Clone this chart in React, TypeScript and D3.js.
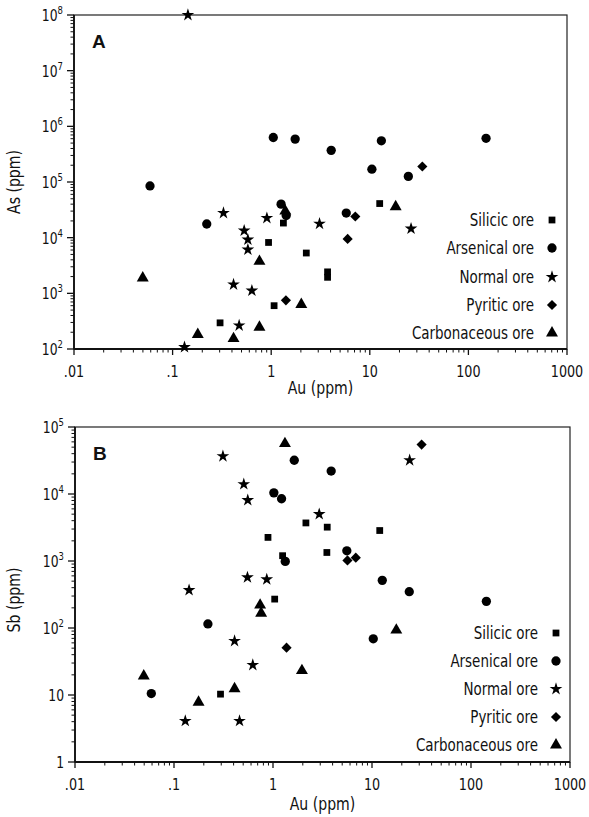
import React from 'react';
import * as d3 from 'd3';

const seriesNames = ['Silicic ore', 'Arsenical ore', 'Normal ore', 'Pyritic ore', 'Carbonaceous ore'];

// Panel A: [Au ppm, As ppm]
const silicicA = [[1.33, 18300], [0.94, 8200], [1.07, 600], [0.303, 295], [12.6, 41000], [2.27, 5300], [3.73, 2430], [3.73, 1940]];
const arsenicalA = [[0.059, 85000], [1.05, 630000], [1.75, 590000], [4.06, 370000], [13.1, 550000], [10.5, 170000], [24.6, 126000], [151, 610000], [0.222, 17600], [1.26, 40000], [1.42, 25000], [5.77, 27700]];
const normalA = [[0.143, 1e8], [0.328, 27700], [0.904, 22500], [0.532, 13400], [0.58, 9200], [0.58, 6100], [0.415, 1440], [0.637, 1120], [0.473, 264], [0.132, 108], [3.09, 17800], [26.2, 14500]];
const pyriticA = [[34.1, 190000], [1.41, 750], [7.13, 24000], [5.96, 9500]];
const carbonaceousA = [[1.39, 30000], [0.76, 3760], [0.0498, 1890], [2.02, 630], [0.18, 182], [0.415, 154], [0.76, 246], [18.3, 36000]];

// Panel B: [Au ppm, Sb ppm]
const silicicB = [[0.89, 2250], [1.25, 1200], [1.04, 270], [2.15, 3700], [3.53, 3200], [11.97, 2850], [3.5, 1340], [0.295, 10.3]];
const arsenicalB = [[1.64, 31900], [1.02, 10400], [1.22, 8500], [1.33, 986], [3.87, 22000], [5.57, 1420], [12.7, 514], [23.8, 348], [143, 250], [0.22, 115], [0.059, 10.5], [10.3, 69]];
const normalB = [[0.312, 36600], [0.507, 14000], [0.556, 8100], [0.552, 569], [0.865, 531], [0.142, 368], [24, 31900], [2.93, 5000], [0.409, 64], [0.625, 28], [0.13, 4.1], [0.459, 4.1]];
const pyriticB = [[31.7, 54600], [5.65, 1020], [6.86, 1120], [1.37, 50.8]];
const carbonaceousB = [[1.32, 56600], [0.741, 220], [0.759, 166], [0.0495, 19.2], [0.409, 12.4], [0.177, 7.8], [1.96, 23.1], [17.6, 93]];

const xTickValues = [0.01, 0.1, 1, 10, 100, 1000];
const xTickLabels = ['.01', '.1', '1', '10', '100', '1000'];
const yTickValuesA = [1e2, 1e3, 1e4, 1e5, 1e6, 1e7, 1e8];
const yTickExpA = ['2', '3', '4', '5', '6', '7', '8'];
const yTickValuesB = [1, 10, 1e2, 1e3, 1e4, 1e5];
const yTickBaseB = ['1', '10', '10', '10', '10', '10'];
const yTickExpB = ['', '', '2', '3', '4', '5'];

const FONT = '"DejaVu Sans Condensed", "Liberation Sans", Arial, sans-serif';

const symbolTypes = [d3.symbolSquare, d3.symbolCircle, d3.symbolStar, d3.symbolDiamond2, d3.symbolTriangle];
const symbolSizes = [46, 68, 50, 66, 62];

function minorTicks(lo: number, hi: number) {
  const out: number[] = [];
  for (let d = lo; d < hi; d *= 10) {
    for (let k = 2; k <= 9; k++) out.push(d * k);
  }
  return out;
}

type PanelProps = {
  label: string;
  yTitle: string;
  left: number; right: number; top: number; bottom: number;
  yDomain: [number, number];
  yTicks: number[]; yBase: string[]; yExp: string[];
  series: number[][][];
  legendX: number; legendY: number[];
  xTitleY: number;
  yTitleY: number;
};

function Panel(p: PanelProps) {
  const x = d3.scaleLog().domain([0.01, 1000]).range([p.left, p.right]);
  const y = d3.scaleLog().domain(p.yDomain).range([p.bottom, p.top]);
  const xMinor = minorTicks(0.01, 1000);
  const yMinor = minorTicks(p.yDomain[0], p.yDomain[1]);
  const sym = (i: number) => d3.symbol().type(symbolTypes[i]).size(symbolSizes[i])() as string;
  return (
    <g>
      {/* frame */}
      <rect x={p.left} y={p.top} width={p.right - p.left} height={p.bottom - p.top} fill="none" stroke="#222" strokeWidth={1.2} />
      <line x1={p.left} x2={p.left} y1={p.top} y2={p.bottom} stroke="#111" strokeWidth={1.8} />
      <line x1={p.left} x2={p.right} y1={p.bottom} y2={p.bottom} stroke="#111" strokeWidth={1.8} />
      {/* x ticks */}
      {xTickValues.map((v, i) => (
        <g key={'xt' + i}>
          <line x1={x(v)} x2={x(v)} y1={p.bottom} y2={p.bottom + 6} stroke="#111" strokeWidth={1.3} />
          <text transform={`translate(${x(v)},${p.bottom + 28}) scale(0.86,1)`} textAnchor="middle" fontFamily={FONT} fontSize={16.5} fill="#111">{xTickLabels[i]}</text>
        </g>
      ))}
      {xMinor.map((v, i) => (
        <line key={'xm' + i} x1={x(v)} x2={x(v)} y1={p.bottom} y2={p.bottom + 3.5} stroke="#111" strokeWidth={1} />
      ))}
      {/* y ticks */}
      {p.yTicks.map((v, i) => (
        <g key={'yt' + i}>
          <line x1={p.left - 7} x2={p.left} y1={y(v)} y2={y(v)} stroke="#111" strokeWidth={1.3} />
          <text transform={`translate(${p.left - 11},${y(v) + 6}) scale(0.86,1)`} textAnchor="end" fontFamily={FONT} fontSize={16} fill="#111">
            <tspan>{p.yBase[i]}</tspan>
            {p.yExp[i] ? <tspan dy={-7} fontSize={11}>{p.yExp[i]}</tspan> : null}
          </text>
        </g>
      ))}
      {yMinor.map((v, i) => (
        <line key={'ym' + i} x1={p.left - 3.5} x2={p.left} y1={y(v)} y2={y(v)} stroke="#111" strokeWidth={1} />
      ))}
      {/* titles */}
      <text transform={`translate(${(p.left + p.right) / 2 + 0},${p.xTitleY}) scale(0.92,1)`} textAnchor="middle" fontFamily={FONT} fontSize={17} fill="#111">Au (ppm)</text>
      <text transform={`translate(20,${p.yTitleY}) rotate(-90) scale(0.92,1)`} textAnchor="middle" fontFamily={FONT} fontSize={17} fill="#111">{p.yTitle}</text>
      <text x={p.left + 18} y={p.top + 33} fontFamily='"Liberation Sans", Arial, sans-serif' fontWeight="bold" fontSize={19} fill="#111">{p.label}</text>
      {/* points */}
      {p.series.map((pts, si) => (
        <g key={'s' + si}>
          {pts.map((d, j) => (
            <path key={j} d={sym(si)} transform={`translate(${x(d[0])},${y(d[1])})`} fill="#000" />
          ))}
        </g>
      ))}
      {/* legend */}
      {seriesNames.map((n, i) => (
        <g key={'lg' + i}>
          <text transform={`translate(${p.legendX - 18},${p.legendY[i] + 6}) scale(0.88,1)`} textAnchor="end" fontFamily={FONT} fontSize={17} fill="#111">{n}</text>
          <path d={sym(i)} transform={`translate(${p.legendX},${p.legendY[i]})`} fill="#000" />
        </g>
      ))}
    </g>
  );
}

export default function App() {
  return (
    <svg width={589} height={817} style={{ position: 'absolute', left: 0, top: 0, background: '#fff' }}>
      <rect width={589} height={817} fill="#fff" />
      <Panel
        label="A" yTitle="As (ppm)"
        left={74} right={567} top={15} bottom={349}
        yDomain={[1e2, 1e8]} yTicks={yTickValuesA} yBase={yTickValuesA.map(() => '10')} yExp={yTickExpA}
        series={[silicicA, arsenicalA, normalA, pyriticA, carbonaceousA]}
        legendX={552} legendY={[220, 248, 277, 305, 333]}
        xTitleY={394} yTitleY={182}
      />
      <Panel
        label="B" yTitle="Sb (ppm)"
        left={75} right={570} top={427} bottom={762}
        yDomain={[1, 1e5]} yTicks={yTickValuesB} yBase={yTickBaseB} yExp={yTickExpB}
        series={[silicicB, arsenicalB, normalB, pyriticB, carbonaceousB]}
        legendX={556} legendY={[633, 661, 689, 717, 745]}
        xTitleY={810} yTitleY={600}
      />
    </svg>
  );
}
